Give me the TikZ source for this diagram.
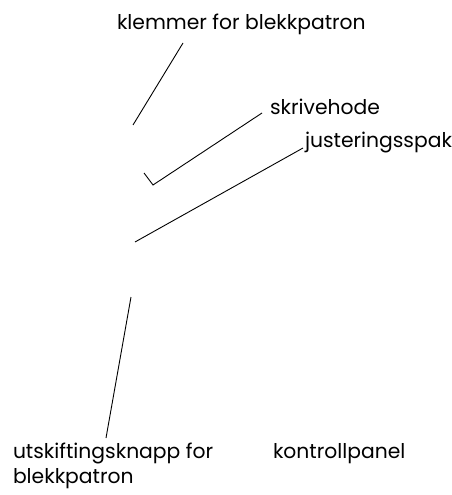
\documentclass[tikz,border=0pt]{standalone}
\usepackage{fontspec}
\setmainfont{Poppins}
\begin{document}
\begin{tikzpicture}[x=1pt,y=-1pt,
  lbl/.style={anchor=base west,inner sep=0pt,outer sep=0pt,font=\fontsize{20.3}{25}\selectfont},
  leader/.style={draw=black,line width=0.9pt}]
\useasboundingbox (0,0) rectangle (452,495);
\node[lbl] (klem) at (117,30) {klemmer for blekkpatron};
\node[lbl] (skriv) at (270,114) {skrivehode};
\node[lbl] (just) at (305,147) {justeringsspak};
\node[lbl] (utsk) at (13,458) {utskiftingsknapp for};
\node[lbl] (utsk2) at (13,483) {blekkpatron};
\node[lbl] (kontr) at (273,458) {kontrollpanel};
\coordinate (k1) at (183,43);
\coordinate (k2) at (133,125);
\coordinate (s1) at (262,113);
\coordinate (s2) at (153,185);
\coordinate (s3) at (144,173);
\coordinate (j1) at (303,148);
\coordinate (j2) at (135,242);
\coordinate (u1) at (106,438);
\coordinate (u2) at (131,297);
\draw[leader] (k1) -- (k2);
\draw[leader] (s1) -- (s2) -- (s3);
\draw[leader] (j1) -- (j2);
\draw[leader] (u1) -- (u2);
\end{tikzpicture}
\end{document}
